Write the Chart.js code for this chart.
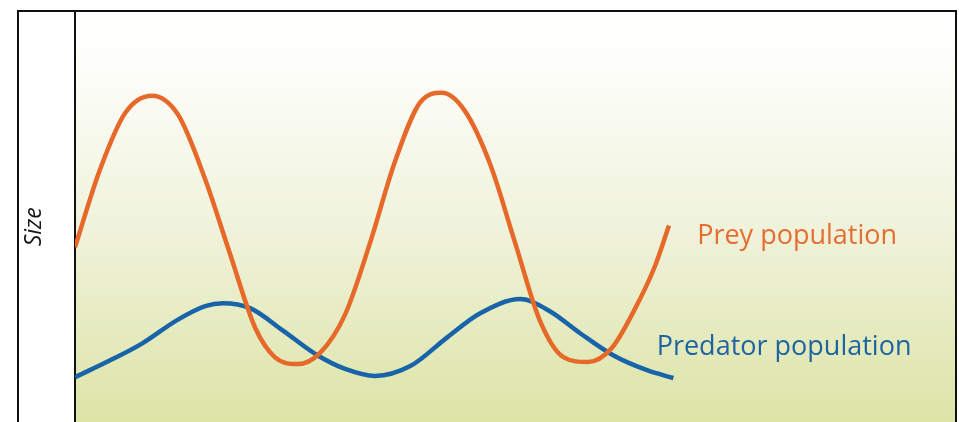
<!DOCTYPE html>
<html>
<head>
<meta charset="utf-8">
<script src="https://cdn.jsdelivr.net/npm/chart.js@4"></script>
<style>
  html, body { margin: 0; padding: 0; background: #fff; }
  #wrap { width: 959px; height: 422px; }
</style>
</head>
<body>
<div id="wrap"><canvas id="myChart" width="959" height="422"></canvas></div>
<script>
// values (time on x, size on y, 0..100)
const preyTime = [0, 2.8, 5.7, 8.75, 11.7, 14.8, 17.6, 20.5, 22.7, 25.3, 27.8, 30.7, 33.5,
  36.4, 39.2, 41.7, 44.3, 47.2, 50.0, 52.8, 55.5, 58.3, 61.0, 63.6, 65.9, 67.5];
const preySize = [42.5, 61.2, 75.2, 79.4, 74.8, 59.0, 41.0, 22.8, 15.8, 14.1, 16.7, 26.2, 43.4,
  63.6, 77.7, 80.1, 75.7, 62.6, 43.7, 24.8, 15.8, 14.6, 18.0, 27.4, 37.9, 47.8];

const predatorTime = [0, 4.0, 7.7, 11.6, 14.8, 16.8, 19.9, 23.6, 27.5, 30.7, 34.1, 38.1, 42.3,
  46.0, 50.6, 54.0, 57.4, 61.1, 65.0, 68.0];
const predatorSize = [10.9, 15.0, 19.2, 24.8, 28.2, 28.9, 27.7, 22.3, 16.3, 12.9, 11.2, 13.6, 20.6,
  26.4, 29.9, 26.9, 21.6, 16.3, 12.6, 10.7];

const seriesNames = ['Prey population', 'Predator population'];
const axisTitle = 'Size';

const orange = 'rgb(230, 105, 42)';
const blue = 'rgb(25, 100, 168)';

function toPoints(xs, ys) {
  return xs.map((x, i) => ({ x: x, y: ys[i] }));
}

// gradient behind the plot + outer frame
const backdrop = {
  id: 'backdrop',
  beforeDraw(chart) {
    const { ctx, chartArea: a } = chart;
    const g = ctx.createLinearGradient(0, a.top, 0, a.bottom);
    g.addColorStop(0, '#ffffff');
    g.addColorStop(0.15, '#fdfdf9');
    g.addColorStop(0.55, '#eff2d9');
    g.addColorStop(1, '#dce4a6');
    ctx.save();
    ctx.fillStyle = g;
    ctx.fillRect(a.left, a.top, a.right - a.left, a.bottom - a.top);
    ctx.restore();
  },
  afterDraw(chart) {
    const ctx = chart.ctx;
    ctx.save();
    ctx.strokeStyle = '#111';
    ctx.lineWidth = 2;
    ctx.beginPath();
    ctx.moveTo(18, chart.height + 2);
    ctx.lineTo(18, 11);
    ctx.lineTo(956, 11);
    ctx.lineTo(956, chart.height + 2);
    ctx.stroke();
    ctx.restore();
  }
};

// series names next to the curves, and the rotated axis name
const seriesLabels = {
  id: 'seriesLabels',
  afterDatasetsDraw(chart, args, opts) {
    const { ctx, scales: { x, y } } = chart;
    ctx.save();
    ctx.textAlign = 'left';
    ctx.textBaseline = 'alphabetic';
    ctx.font = opts.font;
    opts.items.forEach(it => {
      ctx.fillStyle = it.color;
      ctx.fillText(it.text, x.getPixelForValue(it.at[0]), y.getPixelForValue(it.at[1]));
    });
    // "Size"
    ctx.translate(opts.title.x, y.getPixelForValue(opts.title.at));
    ctx.rotate(-Math.PI / 2);
    ctx.textAlign = 'center';
    ctx.textBaseline = 'middle';
    ctx.font = opts.title.font;
    ctx.fillStyle = '#151515';
    ctx.fillText(axisTitle, 0, 0);
    ctx.restore();
  }
};

const config = {
  type: 'line',
  data: {
    datasets: [{
      label: seriesNames[0],
      data: toPoints(preyTime, preySize),
      borderColor: orange,
      borderWidth: 4.5,
      pointRadius: 0,
      cubicInterpolationMode: 'monotone',
      fill: false
    }, {
      label: seriesNames[1],
      data: toPoints(predatorTime, predatorSize),
      borderColor: blue,
      borderWidth: 4.5,
      pointRadius: 0,
      cubicInterpolationMode: 'monotone',
      fill: false
    }]
  },
  options: {
    responsive: false,
    animation: false,
    events: [],
    layout: { padding: { top: 11, right: 4, bottom: 0, left: 0 } },
    scales: {
      x: { type: 'linear', min: 0, max: 100, display: false },
      y: {
        min: 0, max: 100,
        grid: { display: false, drawTicks: false },
        ticks: { display: false },
        border: { display: true, color: '#111', width: 2 },
        afterFit(s) { s.width = 75; }
      }
    },
    plugins: {
      legend: { display: false },
      tooltip: { enabled: false },
      seriesLabels: {
        font: '27px "Open Sans"',
        title: { x: 34, at: 47.5, font: 'italic 23px "Open Sans"' },
        items: [
          { text: seriesNames[0], color: 'rgb(228, 110, 50)', at: [70.7, 43.4] },
          { text: seriesNames[1], color: 'rgb(30, 100, 160)', at: [66.1, 16.3] }
        ]
      }
    }
  },
  plugins: [backdrop, seriesLabels]
};

new Chart(document.getElementById('myChart'), config);
</script>
</body>
</html>
